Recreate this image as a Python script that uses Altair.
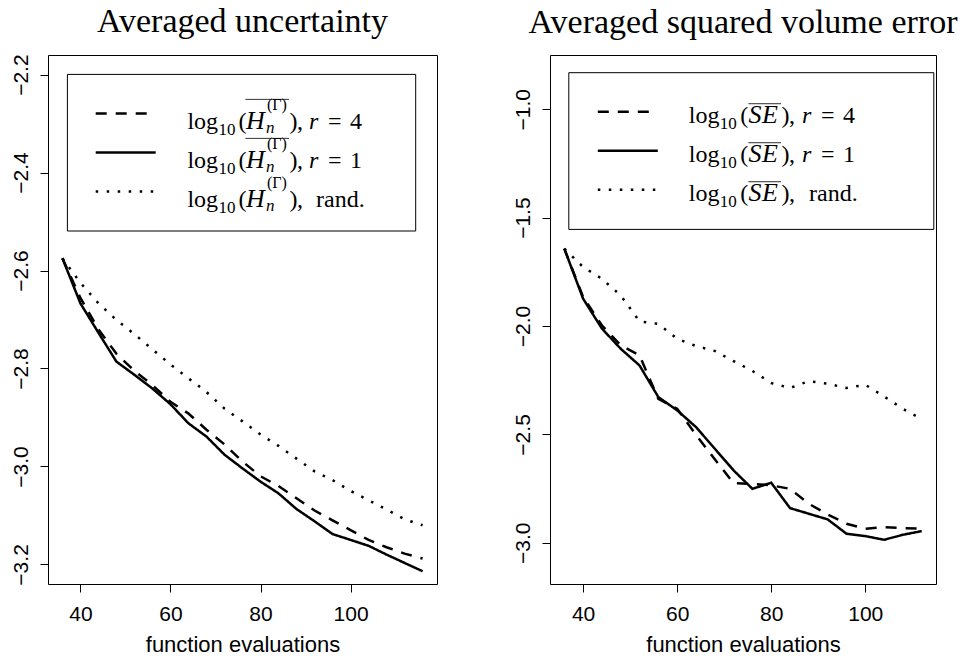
import altair as alt
import pandas as pd

SERIF = "Liberation Serif"
SANS = "Liberation Sans"

# ---------------- data ----------------
evals_unc = [36, 40, 44, 48, 52, 56, 60, 64, 68, 72, 76, 80, 84, 88, 92, 96, 100, 104, 108, 112, 116]
unc_r4 = [-2.575, -2.656, -2.720, -2.770, -2.805, -2.834, -2.868, -2.892, -2.925, -2.955, -2.990,
          -3.020, -3.040, -3.065, -3.090, -3.110, -3.130, -3.150, -3.165, -3.178, -3.188]
unc_r1 = [-2.575, -2.667, -2.727, -2.786, -2.813, -2.841, -2.873, -2.912, -2.939, -2.976, -3.004,
          -3.031, -3.055, -3.087, -3.112, -3.138, -3.150, -3.162, -3.180, -3.197, -3.214]
unc_rand = [-2.575, -2.625, -2.667, -2.701, -2.730, -2.761, -2.792, -2.820, -2.848, -2.882, -2.908,
            -2.935, -2.958, -2.984, -3.010, -3.028, -3.050, -3.069, -3.088, -3.108, -3.120]

evals_se = [36, 40, 44, 48, 52, 56, 60, 64, 68, 72, 76, 80, 84, 88, 92, 96, 100, 104, 108, 112]
se_r4 = [-1.643, -1.866, -1.997, -2.089, -2.136, -2.336, -2.382, -2.502, -2.615, -2.725, -2.728,
         -2.735, -2.751, -2.820, -2.869, -2.912, -2.935, -2.928, -2.932, -2.935]
se_r1 = [-1.643, -1.874, -2.012, -2.105, -2.182, -2.328, -2.389, -2.466, -2.566, -2.666, -2.751,
         -2.723, -2.840, -2.866, -2.892, -2.958, -2.969, -2.986, -2.963, -2.946]
se_rand = [-1.643, -1.728, -1.782, -1.859, -1.979, -1.990, -2.059, -2.092, -2.115, -2.162, -2.207,
           -2.263, -2.286, -2.254, -2.266, -2.286, -2.271, -2.325, -2.382, -2.430]

series_names = ["r = 4", "r = 1", "rand."]
x_tick_values = [40, 60, 80, 100]
unc_y_ticks = [-3.2, -3.0, -2.8, -2.6, -2.4, -2.2]
se_y_ticks = [-3.0, -2.5, -2.0, -1.5, -1.0]
panel_titles = ["Averaged uncertainty", "Averaged squared volume error"]
x_label = "function evaluations"

# ---------------- styling / layout ----------------
DASHES = [[11, 9], [1, 0], [2.5, 8.5]]
LW = 2.5
H = 529
anchor = pd.DataFrame({"k": [0]})


def long_table(x, cols):
    rows = []
    for name, vals in zip(series_names, cols):
        for xv, yv in zip(x, vals):
            rows.append({"evals": xv, "value": yv, "series": name})
    return pd.DataFrame(rows)


def piece(s, x, y, size=24, style="normal"):
    return alt.Chart(anchor).mark_text(
        text=s, align="left", baseline="alphabetic", font=SERIF,
        fontSize=size, fontStyle=style, color="black"
    ).encode(x=alt.value(x), y=alt.value(y))


def hline(x1, x2, y, dash, width):
    return alt.Chart(anchor).mark_rule(
        color="black", strokeWidth=width, strokeDash=dash
    ).encode(x=alt.value(x1), x2=alt.value(x2), y=alt.value(y))


def box(x1, x2, y1, y2):
    return alt.Chart(anchor).mark_rect(
        fill="white", stroke="black", strokeWidth=1
    ).encode(x=alt.value(x1), x2=alt.value(x2), y=alt.value(y1), y2=alt.value(y2))


def unc_legend():
    layers = [box(19.4, 367.7, 19.4, 176.0)]
    rows = [58.4, 97.4, 136.4]
    for i, s in enumerate(rows):
        b = s + 15.3
        layers.append(hline(47.7, 107.7, s, DASHES[i], LW))
        layers += [
            piece("log", 139.4, b),
            piece("10", 170.5, b + 6.2, 17),
            piece("(", 190.5, b),
            piece("H", 198.0, b, 26, "italic"),
            piece("n", 218.0, b + 4.7, 17, "italic"),
            piece("(\u0393)", 219.0, s - 3, 16),
            piece(")", 241.5, b),
            piece(",", 249.0, b),
        ]
        if i < 2:
            layers.append(hline(197.5, 241.0, s - 14, [1, 0], 1))
            layers += [
                piece("r", 261.0, b, 24, "italic"),
                piece("=", 280.0, b),
                piece(series_names[i][-1], 302.0, b),
            ]
        else:
            layers.append(piece("rand.", 268.0, b))
    return layers


def se_legend():
    layers = [box(18.8, 383.8, 17.7, 174.4)]
    rows = [56.7, 95.7, 134.7]
    for i, s in enumerate(rows):
        b = s + 11
        layers.append(hline(47.8, 107.8, s, DASHES[i], LW))
        layers += [
            piece("log", 138.8, b),
            piece("10", 169.8, b + 6.2, 17),
            piece("(", 190.3, b),
            piece("S", 198.5, b, 26, "italic"),
            piece("E", 212.0, b, 26, "italic"),
            piece(")", 231.5, b),
            piece(",", 239.0, b),
            hline(198.5, 231.0, b - 19, [1, 0], 1),
        ]
        if i < 2:
            layers += [
                piece("r", 252.0, b, 24, "italic"),
                piece("=", 271.0, b),
                piece(series_names[i][-1], 293.0, b),
            ]
        else:
            layers.append(piece("rand.", 259.0, b))
    return layers


AX = dict(domain=False, grid=False, ticks=True, tickSize=8, tickColor="black", tickWidth=1,
          labelFont=SANS, labelFontSize=21, labelColor="black", labelFlush=False,
          labelOverlap=False)


def panel(x, cols, xdom, ydom, yticks, width, title, legend_layers):
    df = long_table(x, cols)
    lines = alt.Chart(df).mark_line(color="black", strokeWidth=LW).encode(
        x=alt.X("evals:Q", scale=alt.Scale(domain=xdom, nice=False, zero=False),
                axis=alt.Axis(values=x_tick_values, format="d", title=x_label, labelPadding=11,
                              titleFont=SANS, titleFontSize=22, titleFontWeight="normal",
                              titleColor="black", titlePadding=10, **AX)),
        y=alt.Y("value:Q", scale=alt.Scale(domain=ydom, nice=False, zero=False),
                axis=alt.Axis(values=yticks, format=".1f", title=None, labelAngle=270,
                              labelAlign="center", labelBaseline="bottom", labelPadding=9, **AX)),
        strokeDash=alt.StrokeDash("series:N", sort=series_names,
                                  scale=alt.Scale(domain=series_names, range=DASHES), legend=None),
        order=alt.Order("evals:Q"),
    )
    return alt.layer(lines, *legend_layers).properties(
        width=width, height=H,
        title=alt.TitleParams(text=title, font=SERIF, fontSize=34, fontWeight="normal",
                              color="black", anchor="middle", frame="group", offset=-12,
                              baseline="alphabetic"),
    )


left = panel(evals_unc, [unc_r4, unc_r1, unc_rand], [32.8, 119.2], [-3.24, -2.16],
             unc_y_ticks, 389, panel_titles[0], unc_legend())
right = panel(evals_se, [se_r4, se_r1, se_rand], [32.96, 115.04], [-3.19, -0.75],
              se_y_ticks, 386, panel_titles[1], se_legend())

chart = alt.hconcat(left, right, spacing=73).properties(
    padding={"left": 1, "top": -4, "right": 0, "bottom": 0},
    background="white",
).configure_view(stroke="black", strokeWidth=1)

chart.save("out.html", embed_options={"renderer": "svg", "actions": False})
